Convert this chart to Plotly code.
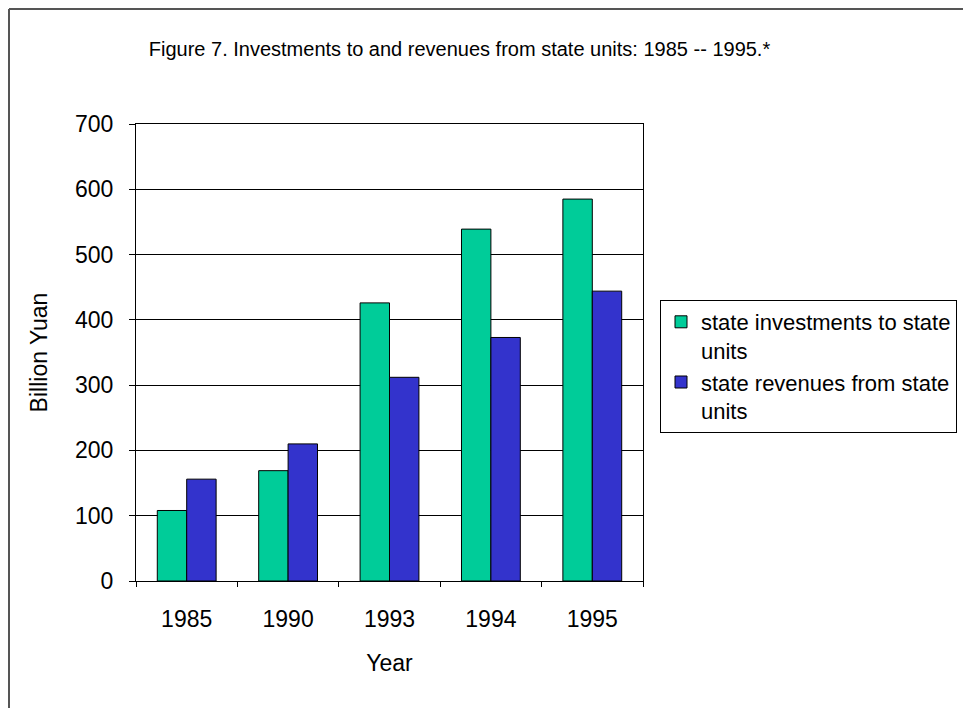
import plotly.graph_objects as go

years = ["1985", "1990", "1993", "1994", "1995"]
investments = [108, 169, 426, 539, 585]
revenues = [156, 210, 312, 373, 444]
y_ticks = [0, 100, 200, 300, 400, 500, 600, 700]

# page body adds an 8px offset; work in screenshot coordinates and shift
OFF = 8
W, H = 971 - OFF, 708 - OFF
# plot area in screenshot pixels
PL, PR, PT, PB = 136, 643, 124, 581
L, R, T, B = PL - OFF, W - (PR - OFF), PT - OFF, H - (PB - OFF)
pw, ph = W - L - R, H - T - B


def px_x(px):
    return (px - OFF - L) / pw


def px_y(py):
    return (H - B - (py - OFF)) / ph


fig = go.Figure()
fig.add_trace(go.Bar(
    x=years, y=investments, name="state investments to state<br>units",
    marker=dict(color="#00CC99", line=dict(color="black", width=1)),
))
fig.add_trace(go.Bar(
    x=years, y=revenues, name="state revenues from state<br>units",
    marker=dict(color="#3333CC", line=dict(color="black", width=1)),
))

font_main = "Liberation Sans, Arial, sans-serif"
FS = 23

fig.update_layout(
    width=W, height=H,
    margin=dict(l=L, r=R, t=T, b=B, autoexpand=False),
    paper_bgcolor="white", plot_bgcolor="white",
    barmode="group", bargap=0.42, bargroupgap=0,
    font=dict(family=font_main, size=FS, color="black"),
    title=dict(
        text="Figure 7. Investments to and revenues from state units: 1985 -- 1995.*",
        font=dict(family="Liberation Sans Narrow, Arial Narrow, " + font_main, size=20, color="black"),
        x=px_x(459.5), xref="paper", xanchor="center",
        y=1 - (49 - OFF) / H, yanchor="middle",
    ),
    xaxis=dict(
        title=dict(text="Year", font=dict(size=FS), standoff=24),
        showline=True, linecolor="black", linewidth=1, mirror=True,
        ticks="outside", tickson="boundaries", ticklen=5, tickcolor="black",
        ticklabelstandoff=17,
        showgrid=False, tickfont=dict(size=FS),
    ),
    yaxis=dict(
        title=dict(text="Billion Yuan", font=dict(size=FS), standoff=20),
        range=[0, 700], tickvals=y_ticks,
        showline=True, linecolor="black", linewidth=1, mirror=True,
        ticks="outside", ticklen=6, tickcolor="black",
        ticklabelstandoff=11,
        showgrid=True, gridcolor="black", gridwidth=1,
        zeroline=False, tickfont=dict(size=FS),
    ),
    legend=dict(
        x=px_x(660), xanchor="left", y=px_y(300), yanchor="top",
        bordercolor="black", borderwidth=1, bgcolor="white",
        font=dict(size=22), traceorder="normal", valign="top",
        itemwidth=30, tracegroupgap=0,
    ),
    showlegend=True,
    shapes=[
        dict(type="line", xref="paper", yref="paper",
             x0=px_x(OFF + 1), x1=px_x(OFF + 1), y0=px_y(H + 20), y1=px_y(OFF + 1),
             line=dict(color="#555555", width=2)),
        dict(type="line", xref="paper", yref="paper",
             x0=px_x(OFF + 1), x1=px_x(W + 20), y0=px_y(OFF + 1), y1=px_y(OFF + 1),
             line=dict(color="#555555", width=2)),
    ],
)

fig.write_html("out.html")
